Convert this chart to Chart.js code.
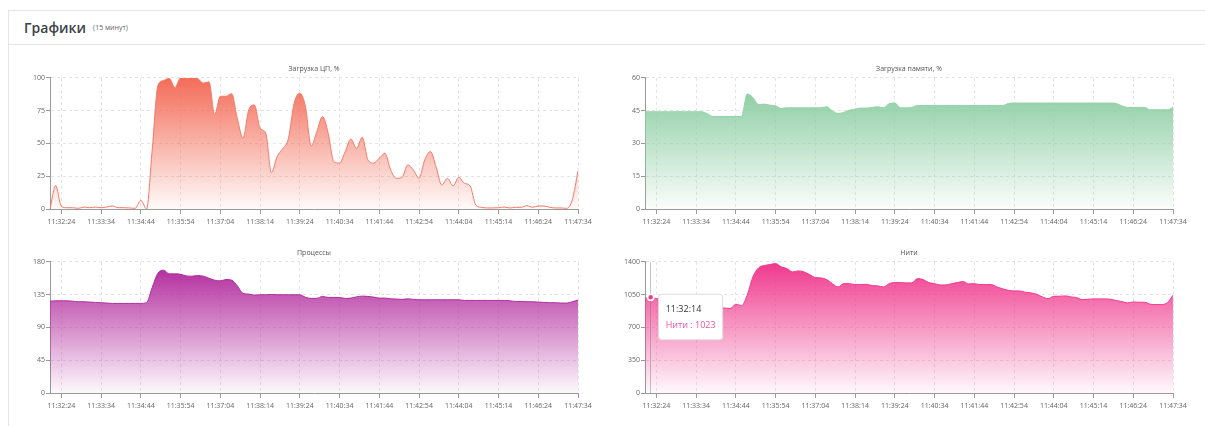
<!DOCTYPE html>
<html lang="ru">
<head>
<meta charset="utf-8">
<title>Графики</title>
<script src="https://cdn.jsdelivr.net/npm/chart.js@4/dist/chart.umd.min.js"></script>
<style>
    html, body { margin: 0; padding: 0; background: #fff; width: 1205px; height: 426px; overflow: hidden; }
    body { position: relative; font-family: 'Open Sans', sans-serif; }
    .card { position: absolute; left: 8px; top: 10px; width: 1300px; height: 430px; border-left: 1px solid #e6e6e6; border-top: 1px solid #e6e6e6; }
    .card-head { height: 33px; border-bottom: 1px solid #e6e6e6; padding-left: 15px; display: flex; align-items: center; }
    .card-head h3 { margin: 0; font-size: 14px; font-weight: 600; color: #3d4349; }
    .card-head small { margin-left: 7px; font-size: 7px; color: #666; }
    canvas { position: absolute; }
</style>
</head>
<body>
<div class="card">
    <div class="card-head"><h3>Графики</h3><small>(15 минут)</small></div>
</div>
<canvas id="cpu-chart" width="588" height="168" style="left:10px; top:63px"></canvas>
<canvas id="mem-chart" width="588" height="168" style="left:605px; top:63px"></canvas>
<canvas id="proc-chart" width="588" height="168" style="left:10px; top:247px"></canvas>
<canvas id="thread-chart" width="588" height="168" style="left:605px; top:247px"></canvas>
<script>
// samples every 10 s over the last 15 minutes
const timeLabels = [
    '11:32:04', '11:32:14', '11:32:24', '11:32:34', '11:32:44', '11:32:54',
    '11:33:04', '11:33:14', '11:33:24', '11:33:34', '11:33:44', '11:33:54',
    '11:34:04', '11:34:14', '11:34:24', '11:34:34', '11:34:44', '11:34:54',
    '11:35:04', '11:35:14', '11:35:24', '11:35:34', '11:35:44', '11:35:54',
    '11:36:04', '11:36:14', '11:36:24', '11:36:34', '11:36:44', '11:36:54',
    '11:37:04', '11:37:14', '11:37:24', '11:37:34', '11:37:44', '11:37:54',
    '11:38:04', '11:38:14', '11:38:24', '11:38:34', '11:38:44', '11:38:54',
    '11:39:04', '11:39:14', '11:39:24', '11:39:34', '11:39:44', '11:39:54',
    '11:40:04', '11:40:14', '11:40:24', '11:40:34', '11:40:44', '11:40:54',
    '11:41:04', '11:41:14', '11:41:24', '11:41:34', '11:41:44', '11:41:54',
    '11:42:04', '11:42:14', '11:42:24', '11:42:34', '11:42:44', '11:42:54',
    '11:43:04', '11:43:14', '11:43:24', '11:43:34', '11:43:44', '11:43:54',
    '11:44:04', '11:44:14', '11:44:24', '11:44:34', '11:44:44', '11:44:54',
    '11:45:04', '11:45:14', '11:45:24', '11:45:34', '11:45:44', '11:45:54',
    '11:46:04', '11:46:14', '11:46:24', '11:46:34', '11:46:44', '11:46:54',
    '11:47:04', '11:47:14', '11:47:24', '11:47:34'
];

// only these times get a label, a tick mark and a grid line
const shownTicks = [
    '11:32:24', '11:33:34', '11:34:44', '11:35:54', '11:37:04', '11:38:14', '11:39:24',
    '11:40:34', '11:41:44', '11:42:54', '11:44:04', '11:45:14', '11:46:24', '11:47:34'
];

const cpuLoad = [
    0, 18, 2, 1, 1, 0.5, 1.5, 1, 1.5, 1, 1.5, 2.3, 1, 1, 0.8, 0.5, 6.6, 0,
    45, 94, 98, 99.7, 92.6, 100, 100, 100, 99.5, 96, 97, 72, 86, 86, 88, 69, 54, 75.6,
    79.4, 61.6, 57.8, 27.7, 40, 46, 54, 80.7, 88.3, 78, 48, 59, 70.5, 57.8, 36, 35,
    43.8, 53.4, 46.3, 54.7, 37.4, 35, 38.7, 42.5, 29.8, 23.4, 24, 33.6, 29.8, 23.4, 37.4, 43.8,
    32.3, 18.3, 23.4, 17.6, 24.2, 19.6, 17.6, 3, 1.3, 0.8, 0.8, 1, 1.5, 0.8, 1.3, 1.3,
    2.5, 1.3, 2.3, 2.3, 1.3, 0.8, 0.8, 0.5, 7, 29
];

const memoryLoad = [
    44.5, 44.5, 44.5, 44.5, 44.5, 44.5, 44.5, 44.5, 44.5, 44.5, 44.5, 43.5, 42.3, 42.3, 42.3, 42.3, 42.3, 42.3,
    52.6, 51, 47.8, 48, 47.5, 47.2, 46, 46.3, 46.3, 46.3, 46.3, 46.3, 46.3, 46.3, 46.8, 44.9, 43.7, 44.2,
    45.2, 45.7, 46.2, 46.2, 46.5, 46.8, 46.3, 48.2, 48.5, 46.3, 46.3, 46.5, 47.4, 47.4, 47.4, 47.4,
    47.4, 47.4, 47.4, 47.4, 47.4, 47.4, 47.4, 47.4, 47.4, 47.4, 47.4, 47.4, 48.3, 48.5, 48.5, 48.5,
    48.5, 48.5, 48.5, 48.5, 48.5, 48.5, 48.5, 48.5, 48.5, 48.5, 48.5, 48.5, 48.5, 48.5, 48.5, 48.3,
    47.2, 46.5, 46.5, 46.5, 46.5, 45.4, 45.4, 45.4, 45.4, 46.5
];

const processCount = [
    126, 126.6, 126.6, 126.6, 126, 125.3, 125.3, 124.8, 124.4, 124, 123.5, 123, 123, 123, 123, 123, 123, 124,
    145, 164.5, 168.6, 163.6, 163.6, 163, 160.8, 160.4, 161.3, 160.4, 157.6, 154.9, 154, 155.8, 154.9, 147, 136.7, 135.8,
    134.4, 134.9, 134.9, 135.3, 134.9, 134.9, 134.9, 134.9, 134.9, 131.5, 129.8, 130, 132.6, 131.2, 131.2, 131.2,
    129.8, 130.3, 132, 133, 132.6, 131.7, 130.3, 130.3, 129.4, 129, 128.5, 129.4, 128.5, 128, 128, 128,
    128, 128, 128, 128, 128, 127.1, 127.1, 127.1, 127.1, 127.1, 127.1, 127.1, 127.1, 126.6, 125.7, 125.7,
    125.3, 125.3, 124.8, 124.4, 124, 124, 123.5, 123.5, 125.3, 127.6
];

const threadCount = [
    1008, 1023, 1008, 1000, 985, 965, 950, 940, 930, 925, 915, 910, 905, 908, 908, 901, 948, 933,
    1044, 1240, 1336, 1361, 1372, 1382, 1347, 1329, 1293, 1304, 1293, 1265, 1233, 1229, 1211, 1168, 1133, 1168,
    1168, 1158, 1158, 1161, 1147, 1144, 1133, 1168, 1179, 1179, 1176, 1176, 1222, 1211, 1179, 1168,
    1154, 1154, 1168, 1179, 1190, 1165, 1168, 1158, 1158, 1158, 1133, 1112, 1097, 1090, 1090, 1076,
    1069, 1054, 1026, 1008, 1033, 1033, 1037, 1026, 1019, 997, 1001, 1005, 1005, 1005, 1001, 987,
    976, 962, 972, 969, 969, 948, 944, 944, 965, 1044
];

Chart.defaults.font.family = "'Open Sans', sans-serif";
Chart.defaults.color = '#666';

// tooltip box sits just right of the hovered point, no caret
Chart.Tooltip.positioners.besidePoint = function (items) {
    if (!items.length) return false;
    const el = items[0].element;
    return { x: el.x + 11, y: el.y - 3 };
};

// thin vertical pointer under the hovered point
const pointerLine = {
    id: 'pointerLine',
    afterDatasetsDraw(chart) {
        const active = chart.getActiveElements();
        if (!active.length) return;
        const el = active[0].element;
        const { ctx, chartArea } = chart;
        ctx.save();
        ctx.strokeStyle = 'rgba(120,120,120,0.45)';
        ctx.lineWidth = 1;
        ctx.beginPath();
        ctx.moveTo(Math.round(el.x) - 0.5, chartArea.top);
        ctx.lineTo(Math.round(el.x) - 0.5, chartArea.bottom);
        ctx.stroke();
        ctx.restore();
        el.draw(ctx, chartArea);
    }
};

// area fill fades from the highest point of the series down to the axis
function fadeFill(rgb, values) {
    const peak = Math.max(...values);
    return (context) => {
        const chart = context.chart;
        const area = chart.chartArea;
        if (!area) return `rgba(${rgb},0.5)`;
        const top = chart.scales.y.getPixelForValue(peak);
        const g = chart.ctx.createLinearGradient(0, top, 0, area.bottom);
        g.addColorStop(0, `rgba(${rgb},1)`);
        g.addColorStop(1, `rgba(${rgb},0.03)`);
        return g;
    };
}

function buildChart(canvasId, title, values, yMax, yStep, fillRgb, lineColor, tooltip) {
    const ctx = document.getElementById(canvasId).getContext('2d');
    return new Chart(ctx, {
        type: 'line',
        data: {
            labels: timeLabels,
            datasets: [{
                label: title,
                data: values,
                fill: 'start',
                backgroundColor: fadeFill(fillRgb, values),
                borderColor: lineColor,
                borderWidth: 1,
                cubicInterpolationMode: 'monotone',
                pointRadius: 0,
                pointHoverRadius: 3,
                pointHoverBorderWidth: 1.5,
                pointHoverBorderColor: '#fff',
                pointHoverBackgroundColor: lineColor
            }]
        },
        options: {
            responsive: false,
            animation: false,
            events: [],
            layout: { padding: { left: 0, right: 20, top: 0, bottom: 0 } },
            scales: {
                x: {
                    offset: false,
                    grid: { color: '#e4e4e4', tickLength: 5, tickColor: '#999', tickWidth: 1 },
                    border: { color: '#999', dash: [3, 3] },
                    ticks: {
                        autoSkip: false,
                        maxRotation: 0,
                        padding: 4,
                        color: '#666',
                        font: { size: 7 },
                        callback(value, index) {
                            const t = timeLabels[index];
                            return shownTicks.includes(t) ? t : null;
                        }
                    },
                    afterFit(scale) {
                        scale.height = 22;
                        scale.paddingLeft = 0;
                        scale.paddingRight = 0;
                    }
                },
                y: {
                    min: 0,
                    max: yMax,
                    grid: { color: '#e4e4e4', tickLength: 4, tickColor: '#999', tickWidth: 1 },
                    border: { color: '#999', dash: [3, 3] },
                    ticks: {
                        stepSize: yStep,
                        padding: 1,
                        color: '#666',
                        font: { size: 7 },
                        callback: (value) => String(value)
                    },
                    afterFit(scale) {
                        scale.width = 40;
                        scale.paddingTop = 0;
                        scale.paddingBottom = 0;
                    }
                }
            },
            plugins: {
                legend: { display: false },
                title: {
                    display: true,
                    text: title,
                    fullSize: false,
                    color: '#555',
                    font: { size: 7, weight: 'normal' },
                    padding: { top: 2, bottom: 4.5 }
                },
                tooltip: tooltip || { enabled: false }
            }
        },
        plugins: [pointerLine]
    });
}

buildChart('cpu-chart', 'Загрузка ЦП, %', cpuLoad, 100, 25, '243,108,88', '#f47a68');
buildChart('mem-chart', 'Загрузка памяти, %', memoryLoad, 60, 15, '143,207,165', '#93d1a9');
buildChart('proc-chart', 'Процессы', processCount, 180, 45, '180,48,160', '#ad2f9b');

const threadChart = buildChart('thread-chart', 'Нити', threadCount, 1400, 350, '240,58,142', '#ef3a8c', {
    enabled: true,
    position: 'besidePoint',
    xAlign: 'left',
    yAlign: 'top',
    caretSize: 0,
    caretPadding: 0,
    cornerRadius: 3,
    backgroundColor: '#fff',
    borderColor: '#ddd',
    borderWidth: 1,
    displayColors: false,
    padding: { top: 10, bottom: 9, left: 7, right: 7 },
    titleColor: '#333',
    titleFont: { size: 9, weight: 'normal' },
    titleMarginBottom: 5,
    bodyColor: '#f0549c',
    bodyFont: { size: 9 },
    callbacks: {
        label: (item) => `${item.dataset.label} : ${item.raw}`
    }
});

// show the reading at 11:32:14
const hovered = [{ datasetIndex: 0, index: 1 }];
threadChart.setActiveElements(hovered);
threadChart.tooltip.setActiveElements(hovered, { x: 0, y: 0 });
threadChart.update();
</script>
</body>
</html>
